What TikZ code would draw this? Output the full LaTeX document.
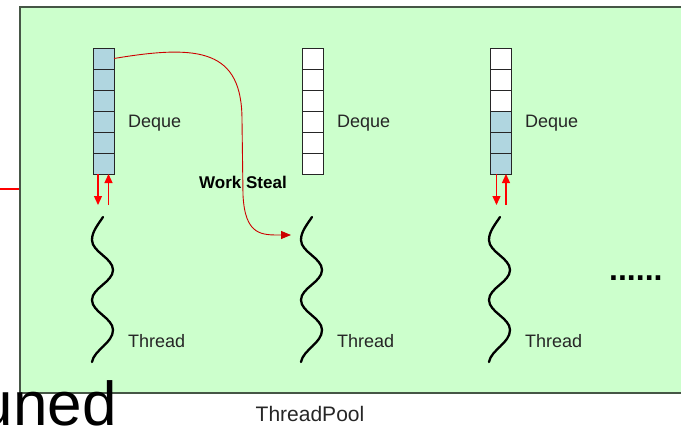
\documentclass[tikz,border=0pt]{standalone}
\usepackage{fontspec}
\setmainfont{Liberation Sans}
\usetikzlibrary{arrows.meta}

\definecolor{poolgreen}{RGB}{204,255,204}
\definecolor{poolborder}{RGB}{70,86,70}
\definecolor{cellblue}{RGB}{176,214,224}

\tikzset{
  cell/.style={draw=black!85, line width=1pt, minimum width=21pt, minimum height=21pt, inner sep=0pt, outer sep=0pt},
  busycell/.style={cell, fill=cellblue},
  freecell/.style={cell, fill=white},
  lbl/.style={font=\fontsize{18}{20}\selectfont, text=black!85, anchor=base west, inner sep=0pt},
  thread/.style={line width=2.3pt, line cap=round},
  push/.style={red, line width=1.3pt, -{Triangle[length=9pt,width=8pt]}},
}

\begin{document}
\begin{tikzpicture}[x=1pt, y=-1pt]
    \useasboundingbox (0,0) rectangle (681,431);
    \clip (0,0) rectangle (681,431);

    % ThreadPool panel
    \node[draw=poolborder, fill=poolgreen, line width=2pt, minimum width=670pt, minimum height=386pt, inner sep=0pt] (pool) at (355,200) {};
    \coordinate (stub) at (0,189);
    \draw[red, line width=1.5pt] (stub) -- (stub -| pool.west);

    % Deques
    \foreach \i in {1,...,6} {
        \node[busycell] (a\i) at (103.5,37.5+21*\i) {};
        \node[freecell] (b\i) at (312.5,37.5+21*\i) {};
    }
    \foreach \i in {1,2,3} \node[freecell] (c\i) at (500.5,37.5+21*\i) {};
    \foreach \i in {4,5,6} \node[busycell] (c\i) at (500.5,37.5+21*\i) {};

    % Deque and Thread labels
    \foreach \x/\n in {0/1,209/2,397/3} {
        \node[lbl] (dq\n) at (128+\x,127) {Deque};
        \node[lbl] (th\n) at (128+\x,347) {Thread};
    }

    % Threads
    \foreach \x in {0,209,397} {
        \begin{scope}[xshift=\x pt]
            \draw[thread] (103,217) .. controls (97,226) and (92,232) .. (92,240)
                .. controls (92,252) and (113,258) .. (113,270)
                .. controls (113,282) and (92,288) .. (92,300)
                .. controls (92,312) and (113,318) .. (113,330)
                .. controls (113,343) and (94,350) .. (92,362);
        \end{scope}
    }

    % push / pop arrows
    \coordinate (a-pop) at (98,205);
    \coordinate (a-push) at (108.5,205);
    \coordinate (c-pop) at (496.5,205);
    \coordinate (c-push) at (506,205);
    \draw[push] (a6.south -| a-pop) -- (a-pop);
    \draw[push] (a-push) -- (a6.south -| a-push);
    \draw[push] (c6.south -| c-pop) -- (c-pop);
    \draw[push] (c-push) -- (c6.south -| c-push);

    % Work steal
    \coordinate (steal) at (291,235);
    \draw[red!80!black, line width=0.9pt, -{Triangle[length=10pt,width=8pt]}]
        (a1.east) .. controls (200,44) and (242,50) .. (242,120) -- (243,195)
        .. controls (245,236) and (262,235) .. (steal);
    \node[font=\fontsize{17}{19}\selectfont\bfseries, anchor=base west, inner sep=0pt] (ws) at (199,188) {Work Steal};

    % more threads
    \node[font=\fontsize{32}{34}\selectfont\bfseries, anchor=base west, inner sep=0pt] (more) at (609,280) {......};

    \node[font=\fontsize{21}{23}\selectfont, text=black!85, anchor=base, inner sep=0pt] (tp) at (310,421) {ThreadPool};
    \node[font=\fontsize{62}{64}\selectfont, anchor=base east, inner sep=0pt] (frag) at (117,425) {uned};
\end{tikzpicture}
\end{document}
